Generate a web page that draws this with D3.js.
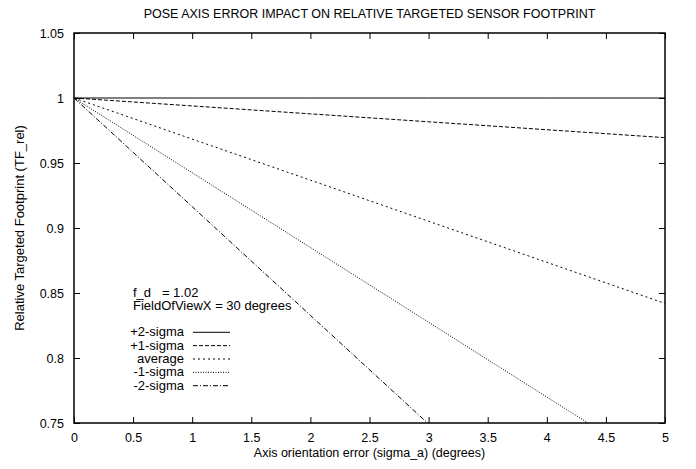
<!DOCTYPE html>
<html><head><meta charset="utf-8">
<script src="https://cdn.jsdelivr.net/npm/d3@7"></script>
<style>body{margin:0;background:#fff}svg{display:block}text{font-family:"Liberation Sans",Arial,sans-serif;fill:#000}</style>
</head><body>
<svg id="c" width="696" height="469"></svg>
<script>
const xValues = [0, 1, 2, 3, 4, 5];
const plus2Sigma = [1, 1, 1, 1, 1, 1];
const plus1Sigma = [1, 0.9939, 0.9878, 0.9817, 0.9756, 0.9695];
const averageS = [1, 0.9684, 0.9368, 0.9052, 0.8736, 0.842];
const minus1Sigma = [1, 0.9425, 0.885, 0.8275, 0.77, 0.7125];
const minus2Sigma = [1, 0.9164, 0.8328, 0.7492, 0.6656, 0.582];
const seriesNames = ["+2-sigma", "+1-sigma", "average", "-1-sigma", "-2-sigma"];
const xTicks = [0, 0.5, 1, 1.5, 2, 2.5, 3, 3.5, 4, 4.5, 5];
const yTicks = [0.75, 0.8, 0.85, 0.9, 0.95, 1, 1.05];
const dashes = [null, "4,2", "2,3", "1,1.5", "5,2,1,2"];

const svg = d3.select("#c");
const L = 74, R = 665, T = 33, B = 423;
const x = d3.scaleLinear().domain([0, 5]).range([L, R]);
const y = d3.scaleLinear().domain([0.75, 1.05]).range([B, T]);
const fs = 12.5, fs2 = 13;

svg.append("defs").append("clipPath").attr("id", "clip")
  .append("rect").attr("x", L).attr("y", T).attr("width", R - L).attr("height", B - T);

const tl = 6;
const fmt = d => String(d);
svg.append("g").attr("transform", `translate(0,${B})`)
  .call(d3.axisBottom(x).tickValues(xTicks).tickSize(-tl).tickPadding(10).tickFormat(fmt))
  .call(g => { g.select(".domain").remove(); g.selectAll("text").attr("font-size", fs).attr("font-family", "Liberation Sans, Arial, sans-serif"); });
svg.append("g").attr("transform", `translate(0,${T})`)
  .call(d3.axisTop(x).tickValues(xTicks).tickSize(-tl).tickFormat(""))
  .call(g => g.select(".domain").remove());
svg.append("g").attr("transform", `translate(${L},0)`)
  .call(d3.axisLeft(y).tickValues(yTicks).tickSize(-tl).tickPadding(10).tickFormat(fmt))
  .call(g => { g.select(".domain").remove(); g.selectAll("text").attr("font-size", fs).attr("font-family", "Liberation Sans, Arial, sans-serif"); });
svg.append("g").attr("transform", `translate(${R},0)`)
  .call(d3.axisRight(y).tickValues(yTicks).tickSize(-tl).tickFormat(""))
  .call(g => g.select(".domain").remove());
svg.selectAll(".tick line").attr("stroke", "#000");

const allSeries = [plus2Sigma, plus1Sigma, averageS, minus1Sigma, minus2Sigma];
const line = d3.line().x((d, i) => x(xValues[i])).y(d => y(d));
const gl = svg.append("g").attr("clip-path", "url(#clip)");
allSeries.forEach((s, k) => {
  gl.append("path").datum(s).attr("d", line).attr("fill", "none")
    .attr("stroke", "#000").attr("stroke-width", 1)
    .attr("stroke-dasharray", dashes[k]);
});

svg.append("rect").attr("x", L).attr("y", T).attr("width", R - L).attr("height", B - T)
  .attr("fill", "none").attr("stroke", "#000").attr("stroke-width", 1.5);

svg.append("text").attr("x", (L + R) / 2).attr("y", 18).attr("text-anchor", "middle")
  .attr("font-size", fs).text("POSE AXIS ERROR IMPACT ON RELATIVE TARGETED SENSOR FOOTPRINT");
svg.append("text").attr("x", (L + R) / 2).attr("y", 457).attr("text-anchor", "middle")
  .attr("font-size", fs).text("Axis orientation error (sigma_a) (degrees)");
svg.append("text").attr("transform", `translate(24,${(T + B) / 2}) rotate(-90)`).attr("text-anchor", "middle")
  .attr("font-size", fs2).text("Relative Targeted Footprint (TF_rel)");

svg.append("text").attr("x", 133).attr("y", 297).attr("font-size", fs2)
  .style("white-space", "pre").text("f_d   = 1.02");
svg.append("text").attr("x", 133).attr("y", 310).attr("font-size", fs2).text("FieldOfViewX = 30 degrees");

const ly0 = 332.3, lstep = 13.35;
seriesNames.forEach((n, k) => {
  const yy = ly0 + k * lstep;
  svg.append("text").attr("x", 184).attr("y", yy + 4).attr("text-anchor", "end").attr("font-size", fs2).text(n);
  svg.append("line").attr("x1", 193).attr("x2", 230).attr("y1", yy).attr("y2", yy)
    .attr("stroke", "#000").attr("stroke-width", 1).attr("stroke-dasharray", dashes[k]);
});
</script>
</body></html>
